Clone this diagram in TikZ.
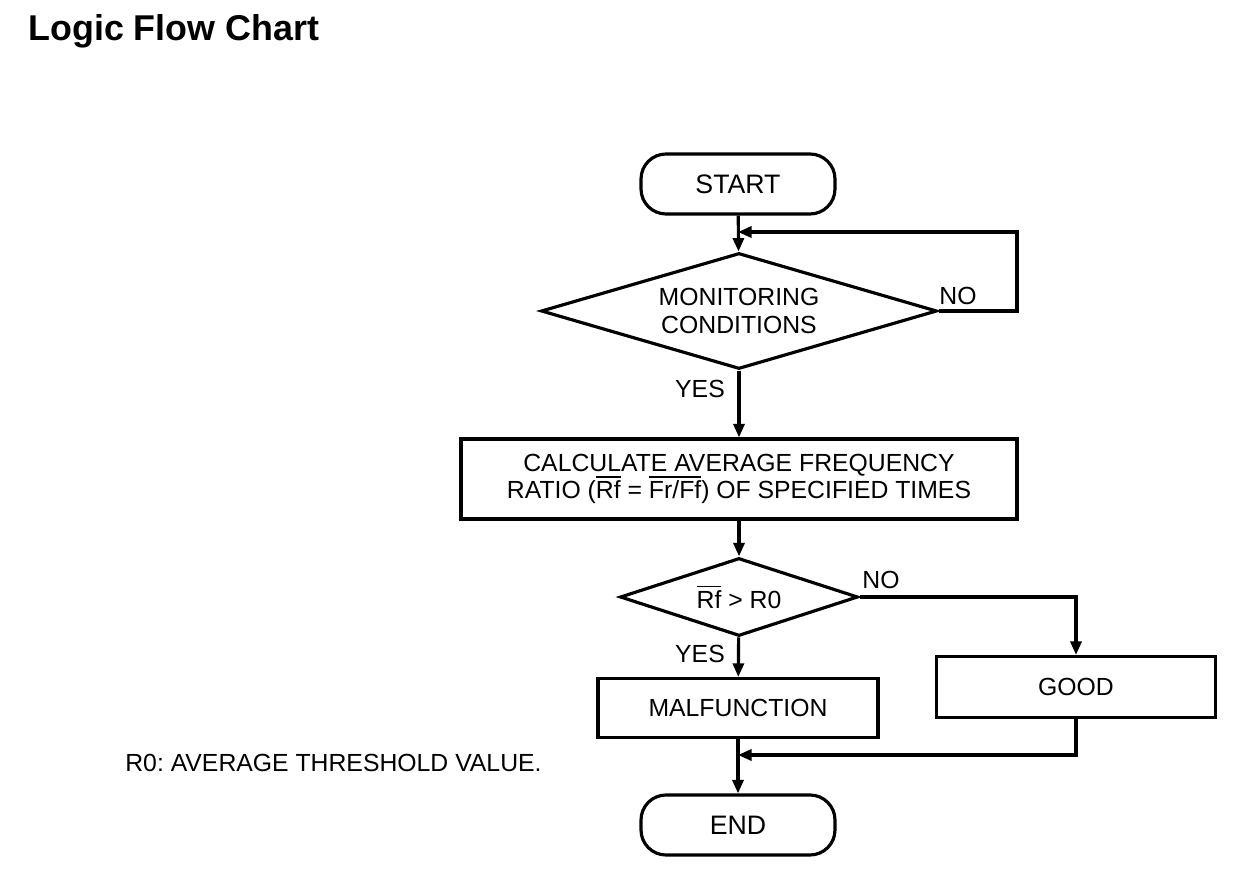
\documentclass[tikz,border=0pt]{standalone}
\usepackage{fontspec}
\setmainfont{Liberation Sans}
\usetikzlibrary{arrows.meta,shapes.geometric}
\frenchspacing
\newsavebox\ovlbox
\newcommand{\ovl}[1]{\sbox\ovlbox{#1}\rlap{\rule[\dimexpr\ht\ovlbox+1.8pt\relax]{\wd\ovlbox}{0.9pt}}\usebox\ovlbox}
\tikzset{
  base/.style={draw, line width=1.8pt, inner sep=0pt, align=center, font=\fontsize{14.1}{15.8}\selectfont},
  term/.style={base, rounded corners=0.5cm, minimum width=3.88cm, minimum height=1.2cm, font=\fontsize{15.2}{17}\selectfont},
  proc/.style={base, rectangle},
  dec/.style={base, diamond},
  lbl/.style={font=\fontsize{14.1}{15.8}\selectfont, inner sep=0pt},
  flow/.style={line width=1.8pt, -{Triangle[length=0.27cm,width=0.22cm]}}
}
\begin{document}
\begin{tikzpicture}[x=0.02cm,y=-0.02cm]
\useasboundingbox (0,0) rectangle (1248,874);
\node[anchor=base west, inner sep=0pt, font=\bfseries\fontsize{20.4}{22}\selectfont] (title) at (28,41) {Logic Flow Chart};

\node[term] (start) at (738,184) {START};
\node[dec, aspect=3.4, minimum width=7.92cm, minimum height=2.32cm] (d1) at (739,311) {MONITORING\\CONDITIONS};
\node[proc, minimum width=11.12cm, minimum height=1.6cm] (calc) at (739,479) {CALCULATE AVERAGE FREQUENCY\\RATIO (\ovl{Rf} = \ovl{Fr/Ff}) OF SPECIFIED TIMES};
\node[dec, aspect=3, minimum width=4.76cm, minimum height=1.56cm] (d2) at (739,597) {\ovl{Rf} > R0};
\node[proc, minimum width=5.6cm, minimum height=1.18cm] (mal) at (738,708) {MALFUNCTION};
\node[proc, minimum width=5.58cm, minimum height=1.22cm] (good) at (1076,687) {GOOD};
\node[term] (end) at (738,825) {END};

\node[lbl] (no1) at (958,296) {NO};
\node[lbl] (yes1) at (700,389) {YES};
\node[lbl] (no2) at (881,580) {NO};
\node[lbl] (yes2) at (700,654) {YES};
\node[lbl, anchor=west] (note) at (125,763) {R0: AVERAGE THRESHOLD VALUE.};

\coordinate (loopin) at (738,232);
\coordinate (merge) at (738,755);

\draw[flow] (start) -- (d1);
\draw[flow] (d1.east) -- (1017,311) -- (1017,232) -- (loopin);
\draw[flow] (d1) -- (calc);
\draw[flow] (calc) -- (d2);
\draw[flow] (d2) -- (mal);
\draw[flow] (d2.east) -| (good.north);
\draw[flow] (mal) -- (end);
\draw[flow] (good.south) |- (merge);
\end{tikzpicture}
\end{document}
